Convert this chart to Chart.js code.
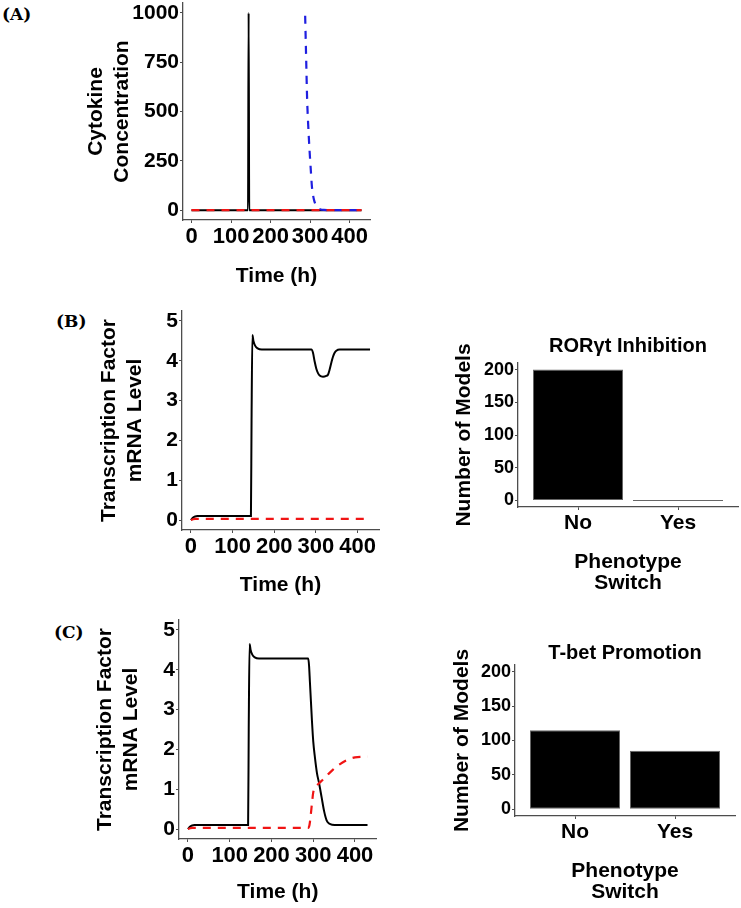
<!DOCTYPE html>
<html>
<head>
<meta charset="utf-8">
<title>Cytokine and transcription factor simulations</title>
<script src="https://cdn.jsdelivr.net/npm/chart.js@4.4.1/dist/chart.umd.min.js"></script>
<style>
  body { margin: 0; background: #fff; }
  #fig { position: relative; width: 741px; height: 908px; }
  canvas, .tag { position: absolute; }
  .tag { font-family: "DejaVu Serif", serif; font-weight: bold; font-size: 17px; }
</style>
</head>
<body>
<div id="fig">
  <div class="tag" style="left:2px;top:4px">(A)</div>
  <div class="tag" style="left:56px;top:311px">(B)</div>
  <div class="tag" style="left:54px;top:622px">(C)</div>

  <canvas id="lineA" width="296" height="289" style="left:84px;top:0px"></canvas>
  <canvas id="lineB" width="293" height="298" style="left:97px;top:300px"></canvas>
  <canvas id="lineC" width="297" height="300" style="left:93px;top:605px"></canvas>
  <canvas id="barB" width="289" height="260" style="left:452px;top:334px"></canvas>
  <canvas id="barC" width="291" height="262" style="left:450px;top:641px"></canvas>
</div>

<script>
// ======== DADOS ========
const timeTicks = [0, 100, 200, 300, 400];
const cytokineTicks = [0, 250, 500, 750, 1000];
const mrnaTicks = [0, 1, 2, 3, 4, 5];
const countTicks = [0, 50, 100, 150, 200];
const categories = ['No', 'Yes'];

// (A) cytokine concentration
const aBlackTime = [0, 143, 144.5, 146, 430];
const aBlack = [0, 0, 1000, 0, 0];
const aBlueTime = [287.5, 290, 292.5, 295, 298.5, 301.5, 304.5, 307, 309.5, 313, 316, 320, 325, 335, 360, 430];
const aBlue = [985, 770, 560, 440, 306, 212, 122, 82, 55, 32, 22, 12, 5, 1, 0, 0];
const aRedTime = [0, 430];
const aRed = [0, 0];

// (B) RORgt inhibition, mRNA levels
const bBlackTime = [0, 3, 6, 10, 15, 25, 144, 145.5, 147.5, 150, 154, 160, 170, 289, 293, 297, 301, 305, 309, 317, 325, 329, 333, 337, 341, 345, 349, 357, 430];
const bBlack = [0, 0.04, 0.07, 0.09, 0.1, 0.1, 0.1, 2.5, 4.65, 4.5, 4.38, 4.31, 4.28, 4.28, 4.2, 3.98, 3.8, 3.69, 3.63, 3.6, 3.62, 3.65, 3.78, 3.95, 4.1, 4.2, 4.25, 4.28, 4.28];
const bRedTime = [0, 5, 10, 430];
const bRed = [0, 0.02, 0.03, 0.03];

// (C) T-bet promotion, mRNA levels
const cBlackTime = [0, 3, 6, 10, 15, 25, 144, 145.5, 147.5, 150, 154, 160, 170, 288, 290, 292, 294.5, 297, 300, 304, 309, 314, 320, 326, 332, 338, 345, 360, 430];
const cBlack = [0, 0.04, 0.07, 0.09, 0.1, 0.1, 0.1, 2.5, 4.65, 4.5, 4.38, 4.31, 4.28, 4.28, 4.1, 3.7, 3.2, 2.7, 2.2, 1.8, 1.4, 1.15, 0.8, 0.45, 0.22, 0.14, 0.11, 0.1, 0.1];
const cRedTime = [0, 5, 10, 288, 291, 294, 297, 300, 305, 314, 324, 336, 348, 360, 380, 400, 430];
const cRed = [0, 0.02, 0.03, 0.03, 0.1, 0.35, 0.65, 0.92, 1.05, 1.15, 1.25, 1.38, 1.5, 1.6, 1.73, 1.8, 1.82];

// model counts
const rorgtCounts = [200, 0];
const tbetCounts = [115, 85];

// ======== ESTILO ========
Chart.defaults.font.family = '"Liberation Sans", Arial, sans-serif';
Chart.defaults.color = '#000';
const AXIS = '#4d4d4d';

// fixa o tamanho do eixo para a área do gráfico cair no lugar certo
function fixSize(size) {
  return s => {
    if (s.isHorizontal()) s.height = size;
    else s.width = size;
    s.paddingLeft = s.paddingRight = s.paddingTop = s.paddingBottom = 0;
  };
}

function setTicks(values) {
  return s => { s.ticks = values.map(v => ({ value: v })); };
}

function axis(min, max, ticks, size, title, tickFont, label) {
  return {
    type: 'linear',
    min: min,
    max: max,
    offset: false,
    afterBuildTicks: setTicks(ticks),
    afterFit: fixSize(size),
    ticks: {
      font: { size: tickFont, weight: 'bold' },
      color: '#000',
      padding: 1,
      maxRotation: 0,
      autoSkip: false,
      callback: label || (v => String(v))
    },
    grid: { display: true, offset: false, drawOnChartArea: false, drawTicks: true, tickLength: 3, color: AXIS, lineWidth: 1 },
    border: { display: true, color: AXIS, width: 1.3 },
    title: { display: true, text: title.text, padding: 0, font: { size: 21, weight: 'bold', lineHeight: title.lh || 1.2 }, color: '#000' }
  };
}

function serie(time, values, color, dashed, order) {
  return {
    data: time.map((t, i) => ({ x: t, y: values[i] })),
    borderColor: color,
    borderWidth: dashed ? 2.2 : 2,
    borderDash: dashed ? [8, 7] : [],
    pointRadius: 0,
    cubicInterpolationMode: 'monotone',
    order: order
  };
}

// ======== GRÁFICOS DE LINHA ========
function lineChart(id, datasets, yMin, yMax, yTicks, yTitle, g) {
  new Chart(document.getElementById(id), {
    type: 'line',
    data: { datasets: datasets },
    options: {
      responsive: false,
      animation: false,
      layout: { padding: { top: g.top, right: g.right, left: 0, bottom: 0 } },
      plugins: { legend: { display: false }, tooltip: { enabled: false } },
      scales: {
        x: axis(-21.5, 451.5, timeTicks, g.xh, { text: 'Time (h)' }, 22),
        y: axis(yMin, yMax, yTicks, g.yw, { text: yTitle }, 21)
      }
    }
  });
}

lineChart('lineA', [
  serie(aBlackTime, aBlack, '#000', false, 3),
  serie(aBlueTime, aBlue, '#1f1fe0', true, 2),
  serie(aRedTime, aRed, '#f01414', true, 1)
], -50, 1050, cytokineTicks, ['Cytokine', 'Concentration'], { top: 3, right: 10, xh: 69, yw: 99 });

lineChart('lineB', [
  serie(bBlackTime, bBlack, '#000', false, 2),
  serie(bRedTime, bRed, '#f01414', true, 1)
], -0.25, 5.25, mrnaTicks, ['Transcription Factor', 'mRNA Level'], { top: 11, right: 11, xh: 68, yw: 85 });

lineChart('lineC', [
  serie(cBlackTime, cBlack, '#000', false, 2),
  serie(cRedTime, cRed, '#f01414', true, 1)
], -0.25, 5.25, mrnaTicks, ['Transcription Factor', 'mRNA Level'], { top: 15, right: 13.5, xh: 66, yw: 86 });

// ======== GRÁFICOS DE BARRAS ========
function barChart(id, counts, title, g) {
  new Chart(document.getElementById(id), {
    type: 'bar',
    data: {
      datasets: [{
        data: categories.map((c, i) => ({ x: i + 1, y: counts[i] })),
        backgroundColor: '#000',
        borderColor: '#666',
        borderWidth: 1,
        borderSkipped: false,
        minBarLength: 1,
        barPercentage: 0.9,
        categoryPercentage: 1
      }]
    },
    options: {
      responsive: false,
      animation: false,
      layout: { padding: { top: 0, right: g.right, left: 0, bottom: 0 } },
      plugins: {
        legend: { display: false },
        tooltip: { enabled: false },
        title: {
          display: true,
          text: title,
          fullSize: false,
          color: '#000',
          font: { size: 20, weight: 'bold', lineHeight: 1.2 },
          padding: { top: 0, bottom: g.gap }
        }
      },
      scales: {
        x: axis(0.4, 2.6, [1, 2], 87, { text: ['Phenotype', 'Switch'], lh: 1.0 }, 21, v => categories[v - 1]),
        y: axis(-10, 210, countTicks, g.yw, { text: 'Number of Models' }, 18)
      }
    }
  });
}

barChart('barB', rorgtCounts, 'RORγt Inhibition', { right: 3, yw: 66, gap: 5 });
barChart('barC', tbetCounts, 'T-bet Promotion', { right: 6, yw: 65, gap: 0 });
</script>
</body>
</html>
